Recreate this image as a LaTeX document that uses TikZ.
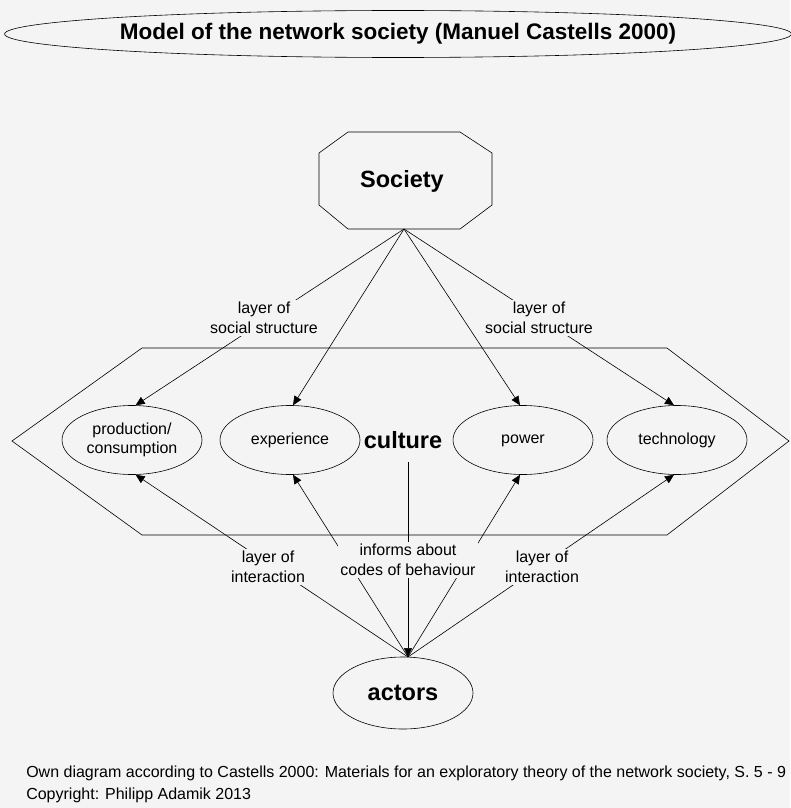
\documentclass[tikz,border=0pt]{standalone}
\usepackage{fontspec}
\setmainfont{Liberation Sans}
\usetikzlibrary{shapes.geometric,arrows.meta}
\definecolor{bg}{HTML}{F4F4F4}
\begin{document}
\begin{tikzpicture}[x=1pt,y=-1pt,
  every node/.style={align=center},
  small/.style={font=\fontsize{16}{19.5}\selectfont},
  big/.style={font=\bfseries\fontsize{23.5}{26}\selectfont},
  oval/.style={ellipse,draw,fill=bg,inner sep=0pt},
  smalloval/.style={oval,small,minimum width=140pt,minimum height=69pt},
  arr/.style={-{Triangle[length=9pt,width=8pt]}},
  lbl/.style={small,fill=bg,inner sep=2pt},
  line width=0.6pt]
\fill[bg] (0,0) rectangle (790,808);
\useasboundingbox (0,0) rectangle (790,808);
% title
\node[oval,minimum width=781pt,minimum height=47pt,font=\bfseries\fontsize{22.5}{26}\selectfont] (title) at (398,34) {Model of the network society (Manuel Castells 2000)};
% culture hexagon
\draw (12,441) -- (142,348) -- (667,348) -- (789,441) -- (667,535) -- (142,535) -- cycle;
% society octagon
\draw[fill=bg] (348,132) -- (460,132) -- (492,153) -- (492,205) -- (460,229) -- (348,229) -- (319,205) -- (319,153) -- cycle;
\node[big] (society) at (402,181) {Society};
\coordinate (apex) at (404,229);
% ellipses
\node[smalloval] (prod) at (132,440) {production/\\consumption};
\node[smalloval] (exp) at (290,440) {experience};
\node[smalloval] (pow) at (523,440) {power\strut};
\node[smalloval] (tech) at (677,440) {technology};
\node[big,inner sep=0pt] (culture) at (403,440) {culture};
\node[oval,big,minimum width=140pt,minimum height=72pt] (actors) at (403,693) {actors};
\coordinate (atop) at (408,657);
\coordinate (cbot) at (408,462);
% connectors from society
\draw[arr] (apex) -- (prod.84);
\draw[arr] (apex) -- (exp.85);
\draw[arr] (apex) -- (pow.95);
\draw[arr] (apex) -- (tech.95);
% connectors from actors
\draw[arr] (atop) -- (prod.-84);
\draw[arr] (atop) -- (exp.-85);
\draw[arr] (atop) -- (pow.-95);
\draw[arr] (atop) -- (tech.-95);
\draw[arr] (cbot) -- (atop);
% labels
\node[lbl] (l1) at (264,318) {layer of\\social structure};
\node[lbl] (l2) at (539,318) {layer of\\social structure};
\node[lbl] (l3) at (268,567) {layer of\\interaction};
\node[lbl] (l4) at (408,560) {informs about\\codes of behaviour};
\node[lbl] (l5) at (542,567) {layer of\\interaction};
% footer
\node[font=\fontsize{16}{22}\selectfont,align=left,anchor=west,inner sep=0pt] (foot) at (26,784) {Own diagram according to Castells 2000: Materials for an exploratory theory of the network society, S. 5 - 9\\Copyright: Philipp Adamik 2013};
\end{tikzpicture}
\end{document}
